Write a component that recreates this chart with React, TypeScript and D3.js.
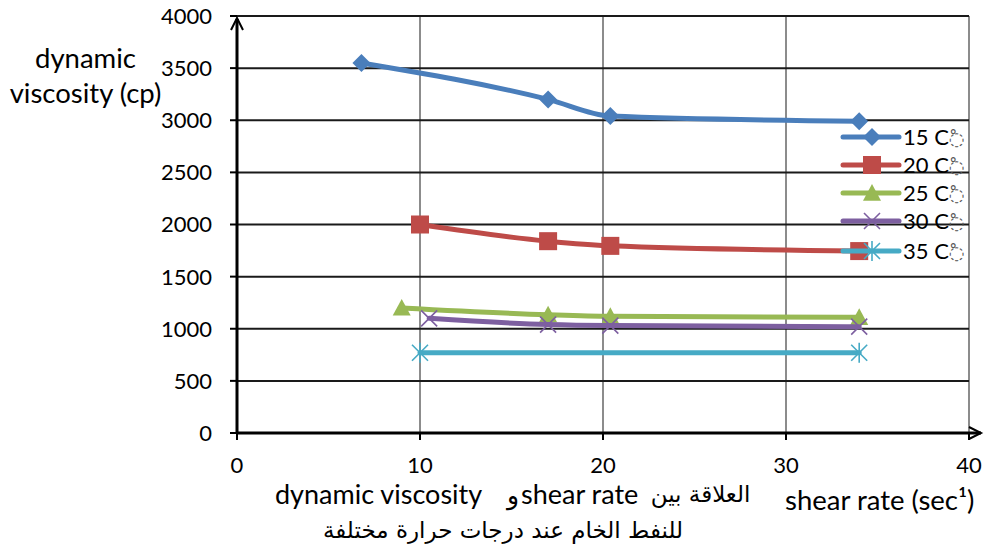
import React from "react";
import * as d3 from "d3";

const series15x = [6.8, 17, 20.4, 34];
const series15y = [3550, 3200, 3040, 2990];
const series20x = [10, 17, 20.4, 34];
const series20y = [2000, 1840, 1795, 1745];
const series25x = [9, 17, 20.4, 34];
const series25y = [1200, 1135, 1120, 1110];
const series30x = [10.5, 17, 20.4, 34];
const series30y = [1100, 1040, 1030, 1020];
const series35x = [10, 34];
const series35y = [770, 770];

const seriesNames = ["15 C", "20 C", "25 C", "30 C", "35 C"];
const seriesColors = ["#4a7ebb", "#be4b48", "#98b954", "#7d5fa0", "#46aac5"];
const seriesMarkers = ["diamond", "square", "triangle", "x", "star"];

const yTicks = [0, 500, 1000, 1500, 2000, 2500, 3000, 3500, 4000];
const xTicks = [0, 10, 20, 30, 40];

const W = 986;
const H = 551;
const FONT = "Lato, 'Open Sans', sans-serif";
const AR_FONT = "'DejaVu Sans', sans-serif";

function Marker({ type, x, y, color }: { type: string; x: number; y: number; color: string }) {
  if (type === "diamond") {
    const s = 9;
    return <path d={`M${x},${y - s}L${x + s},${y}L${x},${y + s}L${x - s},${y}Z`} fill={color} />;
  }
  if (type === "square") {
    const s = 9;
    return <rect x={x - s} y={y - s} width={2 * s} height={2 * s} fill={color} />;
  }
  if (type === "triangle") {
    const s = 9;
    return <path d={`M${x},${y - s}L${x + s},${y + s * 0.85}L${x - s},${y + s * 0.85}Z`} fill={color} />;
  }
  if (type === "x") {
    const s = 8;
    return (
      <path d={`M${x - s},${y - s}L${x + s},${y + s}M${x - s},${y + s}L${x + s},${y - s}`} stroke={color} strokeWidth={1.6} />
    );
  }
  const s = 8;
  return (
    <path
      d={`M${x - s},${y - s}L${x + s},${y + s}M${x - s},${y + s}L${x + s},${y - s}M${x},${y - s * 1.25}L${x},${y + s * 1.25}`}
      stroke={color}
      strokeWidth={1.6}
    />
  );
}

export default function App() {
  const x = d3.scaleLinear().domain([0, 40]).range([237, 969]);
  const y = d3.scaleLinear().domain([0, 4000]).range([433, 16]);
  const line = d3
    .line<[number, number]>()
    .x((d) => x(d[0]))
    .y((d) => y(d[1]))
    .curve(d3.curveMonotoneX);

  const allX = [series15x, series20x, series25x, series30x, series35x];
  const allY = [series15y, series20y, series25y, series30y, series35y];
  const data = allX.map((xs, i) => xs.map((v, j) => [v, allY[i][j]] as [number, number]));

  const legendX = 843;
  const legendY = [137, 165, 193, 221, 251];

  return (
    <svg width={W} height={H} style={{ position: "absolute", left: 0, top: 0, background: "#fff" }} fontFamily={FONT}>
      {/* vertical grid */}
      {xTicks.slice(1).map((t) => (
        <line key={"vx" + t} x1={x(t)} x2={x(t)} y1={y(4000)} y2={y(0)} stroke="#8c8c8c" strokeWidth={2} />
      ))}
      {/* horizontal grid */}
      {yTicks.slice(1).map((t) => (
        <line key={"hy" + t} x1={x(0)} x2={x(40)} y1={y(t)} y2={y(t)} stroke="#1a1a1a" strokeWidth={2} />
      ))}
      {/* y ticks */}
      {yTicks.map((t) => (
        <g key={"yt" + t}>
          <line x1={x(0) - 7} x2={x(0)} y1={y(t)} y2={y(t)} stroke="#000" strokeWidth={2} />
          <text x={212} y={y(t)} dy="0.36em" textAnchor="end" fontSize={22} fill="#000">
            {t}
          </text>
        </g>
      ))}
      {/* x ticks */}
      {xTicks.map((t) => (
        <g key={"xt" + t}>
          <line x1={x(t)} x2={x(t)} y1={y(0)} y2={y(0) + 7} stroke="#000" strokeWidth={2} />
          <text x={x(t)} y={473} textAnchor="middle" fontSize={22} fill="#000">
            {t}
          </text>
        </g>
      ))}
      {/* axes with arrows */}
      <line x1={x(0)} x2={x(0)} y1={y(0) + 1} y2={y(4000) + 3} stroke="#000" strokeWidth={3} />
      <path d={`M${x(0) - 6},${y(4000) + 14}L${x(0)},${y(4000) + 2}L${x(0) + 6},${y(4000) + 14}`} fill="none" stroke="#000" strokeWidth={2} />
      <line x1={x(0) - 1} x2={981} y1={y(0)} y2={y(0)} stroke="#000" strokeWidth={3} />
      <path d={`M${969},${y(0) - 6}L${981},${y(0)}L${969},${y(0) + 6}`} fill="none" stroke="#000" strokeWidth={2} />

      {/* series */}
      {data.map((pts, i) => (
        <g key={"s" + i}>
          <path d={line(pts) || ""} fill="none" stroke={seriesColors[i]} strokeWidth={5} strokeLinecap="round" />
          {pts.map((p, j) => (
            <Marker key={j} type={seriesMarkers[i]} x={x(p[0])} y={y(p[1])} color={seriesColors[i]} />
          ))}
        </g>
      ))}

      {/* legend */}
      {seriesNames.map((n, i) => (
        <g key={"lg" + i}>
          <line x1={legendX} x2={legendX + 56} y1={legendY[i]} y2={legendY[i]} stroke={seriesColors[i]} strokeWidth={5} strokeLinecap="round" />
          <Marker type={seriesMarkers[i]} x={legendX + 29} y={legendY[i]} color={seriesColors[i]} />
          <text x={legendX + 60} y={legendY[i]} dy="0.36em" fontSize={22} fill="#000">
            {n}
            <tspan fontFamily={AR_FONT} fontSize={18} fill="#555">{"\u25CC\u0652"}</tspan>
          </text>
        </g>
      ))}

      {/* y axis title */}
      <text x={85.5} y={68} textAnchor="middle" fontSize={27.5} fill="#000">dynamic</text>
      <text x={85.5} y={103} textAnchor="middle" fontSize={27.5} fill="#000">viscosity (cp)</text>

      {/* bottom titles */}
      <text x={275} y={504} fontSize={27} fill="#000">dynamic viscosity</text>
      <text x={521} y={504} fontSize={27} fill="#000">shear rate</text>
      <text x={507} y={504} fontSize={25} fill="#000" fontFamily={AR_FONT}>و</text>
      <text x={700.5} y={502} textAnchor="middle" fontSize={23} fill="#000" fontFamily={AR_FONT} direction="rtl">العلاقة بين</text>
      <text x={785} y={510} fontSize={27.5} fill="#000">shear rate (sec¹)</text>
      <text x={503} y={538} textAnchor="middle" fontSize={23} fill="#000" fontFamily={AR_FONT} direction="rtl">للنفط الخام  عند درجات حرارة مختلفة</text>
    </svg>
  );
}
